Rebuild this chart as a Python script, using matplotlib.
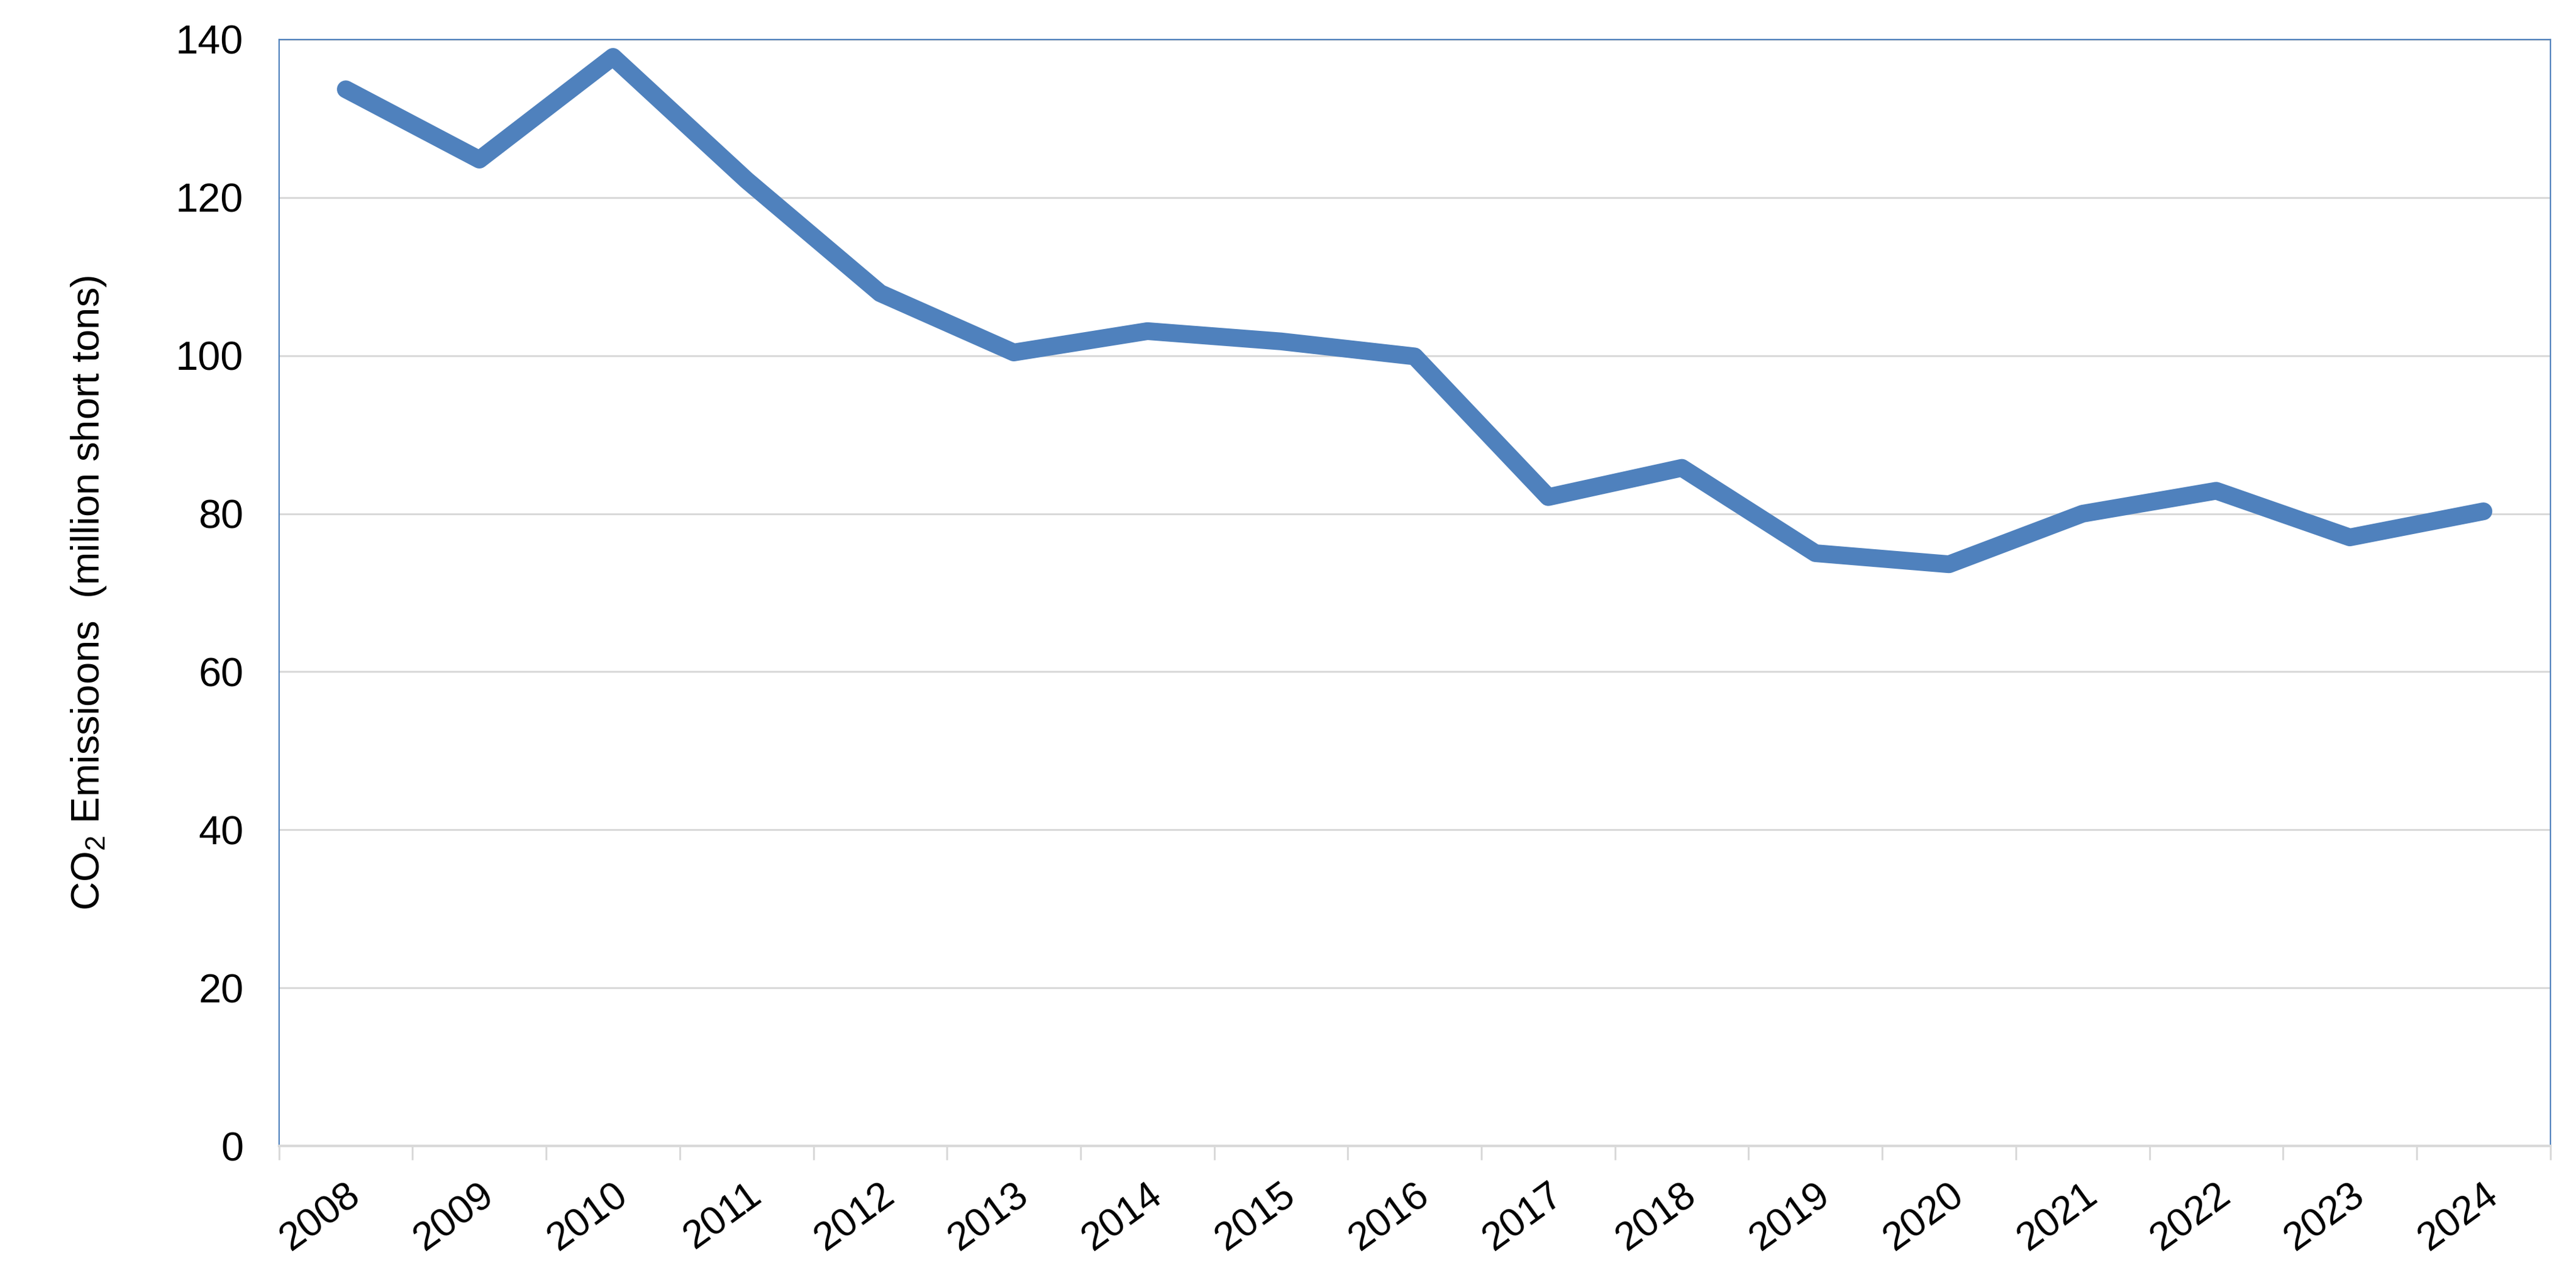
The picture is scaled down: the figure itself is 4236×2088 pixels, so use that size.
import matplotlib
matplotlib.use("Agg")
import matplotlib.pyplot as plt
import numpy as np

years = [str(y) for y in range(2008, 2025)]
emissions = [133.7, 124.8, 137.8, 122.2, 107.9, 100.4, 103.1, 101.8, 99.9,
             82.1, 85.8, 75.0, 73.6, 80.0, 82.9, 77.0, 80.3]
y_ticks = [0, 20, 40, 60, 80, 100, 120, 140]

line_color = "#4F81BD"
grid_color = "#D9D9D9"

plt.rcParams['font.family'] = ['Liberation Sans', 'DejaVu Sans']
plt.rcParams['mathtext.default'] = 'regular'

fig = plt.figure(figsize=(21.18, 10.44), dpi=200)
ax = fig.add_axes([0.1083, 0.0977, 0.990 - 0.1083, 0.9689 - 0.0977])

x = np.arange(len(years))
ax.plot(x, emissions, color=line_color, linewidth=10.5,
        solid_capstyle='round', solid_joinstyle='round', zorder=3)

ax.set_xlim(-0.5, len(years) - 0.5)
ax.set_ylim(0, 140)
ax.set_yticks(y_ticks)
ax.set_yticklabels([str(v) for v in y_ticks], fontsize=24)
ax.tick_params(axis='y', length=0, pad=21)

# year labels sit at category centres, tick marks at category edges
ax.set_xticks(x)
ax.set_xticklabels(years, fontsize=23.5, rotation=36, ha='right', va='top',
                   rotation_mode='anchor')
ax.tick_params(axis='x', which='major', length=0, pad=18)
ax.set_xticks(np.arange(-0.5, len(years)), minor=True)
ax.tick_params(axis='x', which='minor', length=8.3, width=1.1, color=grid_color)

ax.grid(axis='y', color=grid_color, linewidth=1.1, zorder=0)
ax.set_axisbelow(True)

for side in ['left', 'top', 'right']:
    ax.spines[side].set_color(line_color)
    ax.spines[side].set_linewidth(0.8)
ax.spines['bottom'].set_color(grid_color)
ax.spines['bottom'].set_linewidth(1.5)

ax.set_ylabel(r"CO$_{2}$ Emissioons  (million short tons)", fontsize=23.5, labelpad=40)

fig.savefig("out.png", dpi=200, facecolor='white')
